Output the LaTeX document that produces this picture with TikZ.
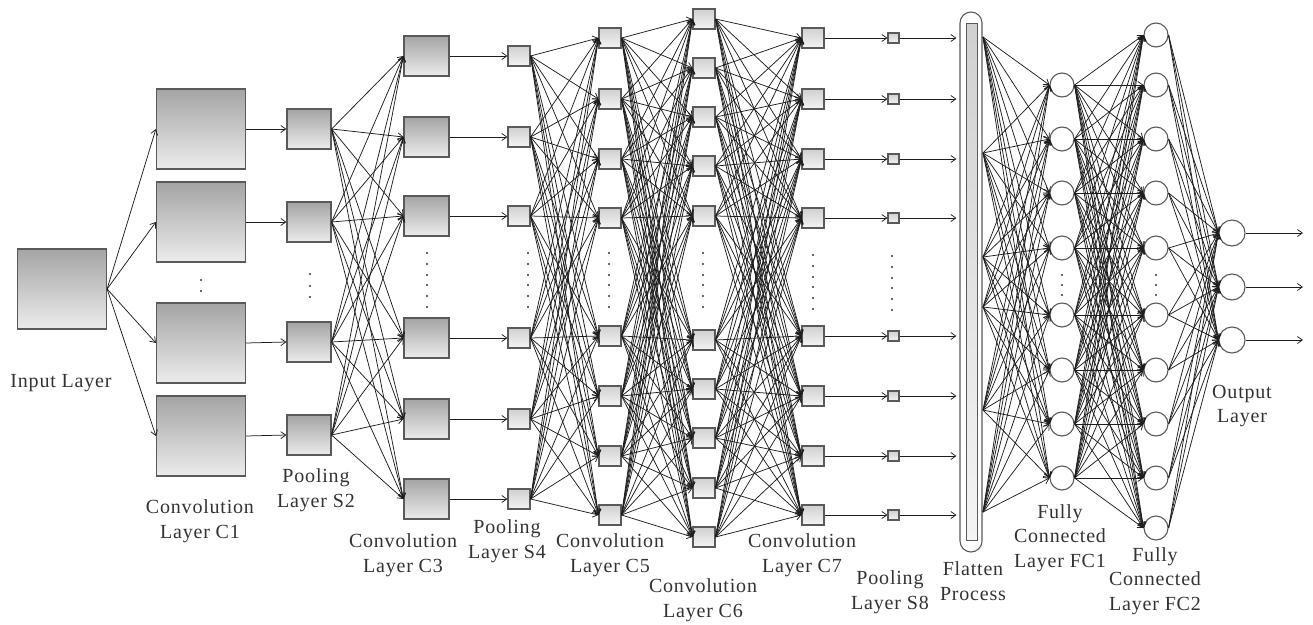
\documentclass[tikz,border=0pt]{standalone}
\usepackage{fontspec}
\newfontfamily\labfont[LetterSpace=4]{Liberation Serif}
\usetikzlibrary{arrows.meta}

\definecolor{edgecol}{HTML}{1E1E1E}
\definecolor{boxline}{HTML}{5A5A5A}
\definecolor{darktop}{HTML}{A4A4A4}
\definecolor{darkbot}{HTML}{ECECEC}
\definecolor{lighttop}{HTML}{D0D0D0}
\definecolor{lightbot}{HTML}{F4F4F4}
\definecolor{txtcol}{HTML}{333333}

\begin{document}
\begin{tikzpicture}[x=1pt,y=-1pt,
  arr/.style={draw=edgecol, line width=0.75pt, -{Straight Barb[length=5pt,width=7pt]}},
  fmap/.style={draw=boxline, line width=1.2pt, inner sep=0pt, top color=darktop, bottom color=darkbot},
  smap/.style={draw=boxline, line width=1.1pt, inner sep=0pt, top color=lighttop, bottom color=lightbot},
  neuron/.style={circle, draw=boxline, line width=1.1pt, fill=white, inner sep=0pt, minimum size=24pt},
  lbl/.style={font=\labfont\fontsize{20}{24.5}\selectfont, text=txtcol, align=center, inner sep=0pt},
  vdot/.style={fill=txtcol}
]
\useasboundingbox (0,0) rectangle (1313,624);

% ---------- layers ----------
\node[fmap, minimum width=89pt, minimum height=80pt] (in) at (62,289) {};

\foreach \y [count=\i] in {129,222,343,436}
  \node[fmap, minimum width=89pt, minimum height=80pt] (c1-\i) at (201,\y) {};

\foreach \y [count=\i] in {129,222,342,435}
  \node[fmap, minimum width=44pt, minimum height=40pt] (s2-\i) at (309,\y) {};

\foreach \y [count=\i] in {56,137,216,338,419,499}
  \node[fmap, minimum width=45pt, minimum height=40pt] (c3-\i) at (426.5,\y) {};

\foreach \y [count=\i] in {56,137,216,338,419,499}
  \node[smap, minimum width=22pt, minimum height=20pt] (s4-\i) at (519,\y) {};

\foreach \y [count=\i] in {38,99,159,218,336,396,456,515}
  \node[smap, minimum width=22pt, minimum height=20pt] (c5-\i) at (610,\y) {};

\foreach \y [count=\i] in {19,68,117,166,216,340,389,438,488,537}
  \node[smap, minimum width=22pt, minimum height=20pt] (c6-\i) at (704,\y) {};

\foreach \y [count=\i] in {38,99,159,218,336,396,456,515}
  \node[smap, minimum width=22pt, minimum height=20pt] (c7-\i) at (813,\y) {};

\foreach \y [count=\i] in {38,99,159,218,336,396,456,515}
  \node[smap, minimum width=11pt, minimum height=10pt] (s8-\i) at (893.5,\y) {};

% flatten column
\node[draw=boxline, line width=1.1pt, fill=white, rounded corners=11pt, inner sep=0pt,
      minimum width=22pt, minimum height=540pt] (flat) at (971,282) {};
\node[draw=boxline, line width=1pt, inner sep=0pt, top color=lighttop, bottom color=lightbot,
      minimum width=11pt, minimum height=517pt] (flatin) at (971.5,281.5) {};
\foreach \y [count=\i] in {37,153,257,307,410,512}
  \coordinate (fs-\i) at (983,\y);

\foreach \y [count=\i] in {85,139,193,248,315,370,424,478}
  \node[neuron] (fc1-\i) at (1062,\y) {};

\foreach \y [count=\i] in {35,85,139,193,248,315,370,424,478,528}
  \node[neuron] (fc2-\i) at (1156,\y) {};

\foreach \y [count=\i] in {233,287,340}
  \node[neuron, minimum size=26pt] (out-\i) at (1232,\y) {};
\foreach \i in {1,2,3}
  \coordinate (res-\i) at (1303,0 |- out-\i);

% ---------- connections ----------
\foreach \i in {1,...,4} \draw[arr] (in.east) -- (c1-\i.west);
\foreach \i in {1,...,4} \draw[arr] (c1-\i.east) -- (s2-\i.west);
\foreach \i in {1,...,4} \foreach \j in {1,...,6} \draw[arr] (s2-\i.east) -- (c3-\j.west);
\foreach \i in {1,...,6} \draw[arr] (c3-\i.east) -- (s4-\i.west);
\foreach \i in {1,...,6} \foreach \j in {1,...,8} \draw[arr] (s4-\i.east) -- (c5-\j.west);
\foreach \i in {1,...,8} \foreach \j in {1,...,10} \draw[arr] (c5-\i.east) -- (c6-\j.west);
\foreach \i in {1,...,10} \foreach \j in {1,...,8} \draw[arr] (c6-\i.east) -- (c7-\j.west);
\foreach \i in {1,...,8} \draw[arr] (c7-\i.east) -- (s8-\i.west);
\foreach \i in {1,...,8} \draw[arr, shorten >=3pt] (s8-\i.east) -- (s8-\i.east -| flat.west);
\foreach \i in {1,...,6} \foreach \j in {1,...,8} \draw[arr] (fs-\i) -- (fc1-\j.west);
\foreach \i in {1,...,8} \foreach \j in {1,...,10} \draw[arr] (fc1-\i.east) -- (fc2-\j.west);
\foreach \i in {1,...,10} \foreach \j in {1,2,3} \draw[arr] (fc2-\i.east) -- (out-\j.west);
\foreach \i in {1,2,3} \draw[arr] (out-\i.east) -- (res-\i);

% ---------- ellipsis dots ----------
\foreach \y in {280,291} \fill[vdot] (201,\y) circle (1.2pt);
\foreach \y in {274,286,297} \fill[vdot] (310,\y) circle (1.2pt);
\foreach \x in {427,528,609,703} \foreach \y in {253,264,275,285,296,307}
  \fill[vdot] (\x,\y) circle (1.1pt);
\foreach \y in {255,266,277,287,298,309} \fill[vdot] (813,\y) circle (1.1pt);
\foreach \y in {256,267,278,288,299,310} \fill[vdot] (892,\y) circle (1.1pt);
\foreach \x in {1062,1156} \foreach \y in {275,285,295} \fill[vdot] (\x,\y) circle (1.1pt);

% ---------- labels ----------
\node[lbl] (l-in)  at (61,383)   {Input Layer};
\node[lbl] (l-c1)  at (200,521)  {Convolution\\Layer C1};
\node[lbl] (l-s2)  at (316,490)  {Pooling\\Layer S2};
\node[lbl] (l-c3)  at (403,555)  {Convolution\\Layer C3};
\node[lbl] (l-s4)  at (507,541)  {Pooling\\Layer S4};
\node[lbl] (l-c5)  at (610,555)  {Convolution\\Layer C5};
\node[lbl] (l-c6)  at (703,600)  {Convolution\\Layer C6};
\node[lbl] (l-c7)  at (802,555)  {Convolution\\Layer C7};
\node[lbl] (l-s8)  at (890,592)  {Pooling\\Layer S8};
\node[lbl] (l-fl)  at (973,581)  {Flatten\\Process};
\node[lbl] (l-fc1) at (1060,538) {Fully\\Connected\\Layer FC1};
\node[lbl] (l-fc2) at (1155,581) {Fully\\Connected\\Layer FC2};
\node[lbl] (l-out) at (1242,406) {Output\\Layer};
\end{tikzpicture}
\end{document}
